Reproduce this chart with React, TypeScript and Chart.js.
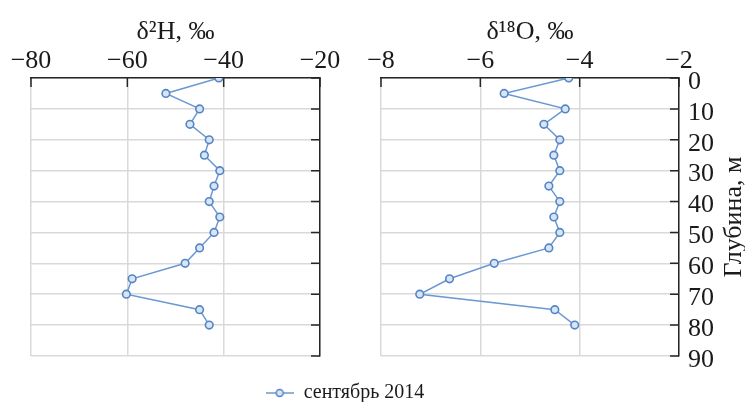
import React, { useEffect, useRef } from 'react';
import { Chart, registerables } from 'chart.js';

Chart.register(...registerables);

// ---- data ----
const depths = [0, 5, 10, 15, 20, 25, 30, 35, 40, 45, 50, 55, 60, 65, 70, 75, 80];
const deltaH = [-41, -52, -45, -47, -43, -44, -40.8, -42, -43, -40.8, -42, -45, -48, -59, -60.2, -45, -43];
const deltaO = [-4.22, -5.52, -4.29, -4.72, -4.4, -4.52, -4.4, -4.62, -4.4, -4.52, -4.4, -4.62, -5.72, -6.62, -7.22, -4.5, -4.1];
const hTicks = [-80, -60, -40, -20];
const oTicks = [-8, -6, -4, -2];
const depthTicks = [0, 10, 20, 30, 40, 50, 60, 70, 80, 90];
const seriesLabel = 'сентябрь 2014';
const titleH = 'δ²H, ‰';
const titleO = 'δ¹⁸O, ‰';
const depthTitle = 'Глубина, м';

// ---- styles ----
const FONT = "'Liberation Serif', 'Times New Roman', serif";
const TEXT = '#1a1a1a';
const AXIS = '#262626';
const GRID = '#d9d9d9';
const LINE = '#6a99d2';
const POINT_BORDER = '#5585c4';
const POINT_FILL = '#d8e5f5';

const fmt = (v: number) => (v < 0 ? '\u2212' + Math.abs(v) : String(v));

const innerTicks = {
  id: 'innerTicks',
  beforeDatasetsDraw(chart: any) {
    const { ctx, chartArea: a, scales } = chart;
    const x = scales.x;
    const y = scales.y;
    ctx.save();
    ctx.strokeStyle = AXIS;
    ctx.lineWidth = 1.5;
    ctx.beginPath();
    x.ticks.forEach((t: any) => {
      const px = x.getPixelForValue(t.value);
      ctx.moveTo(px, a.top);
      ctx.lineTo(px, a.top + 9);
    });
    y.ticks.forEach((t: any) => {
      const py = y.getPixelForValue(t.value);
      ctx.moveTo(a.right, py);
      ctx.lineTo(a.right - 9, py);
    });
    ctx.stroke();
    ctx.restore();
  },
};

const depthTitlePlugin = {
  id: 'depthTitle',
  afterDraw(chart: any) {
    const { ctx, chartArea: a } = chart;
    ctx.save();
    ctx.translate(734, (a.top + a.bottom) / 2);
    ctx.rotate(-Math.PI / 2);
    ctx.font = `26px ${FONT}`;
    ctx.fillStyle = TEXT;
    ctx.textAlign = 'center';
    ctx.textBaseline = 'middle';
    ctx.fillText(depthTitle, 0, 0);
    ctx.restore();
  },
};

function makeLegendSymbol(): HTMLCanvasElement {
  const c = document.createElement('canvas');
  c.width = 28;
  c.height = 10;
  const g = c.getContext('2d')!;
  g.strokeStyle = LINE;
  g.lineWidth = 1.5;
  g.beginPath();
  g.moveTo(0, 5);
  g.lineTo(28, 5);
  g.stroke();
  g.beginPath();
  g.arc(14, 5, 3.5, 0, Math.PI * 2);
  g.fillStyle = POINT_FILL;
  g.fill();
  g.strokeStyle = POINT_BORDER;
  g.stroke();
  return c;
}

function dataset(values: number[]) {
  return {
    label: seriesLabel,
    data: depths.map((d, i) => ({ x: values[i], y: d })),
    showLine: true,
    borderColor: LINE,
    borderWidth: 1.5,
    pointRadius: 3.8,
    pointBorderWidth: 1.6,
    pointBorderColor: POINT_BORDER,
    pointBackgroundColor: POINT_FILL,
    pointHoverRadius: 3.8,
  };
}

function panelOptions(opts: {
  ticks: number[];
  title: string;
  padding: any;
  yWidth: number;
  showDepthLabels: boolean;
  legend: any;
}) {
  const { ticks, title, padding, yWidth, showDepthLabels, legend } = opts;
  return {
    responsive: false,
    animation: false as const,
    events: [] as any[],
    layout: { padding },
    plugins: {
      tooltip: { enabled: false },
      title: {
        display: true,
        text: title,
        fullSize: false,
        color: TEXT,
        font: { family: FONT, size: 26, weight: 'normal' as const },
        padding: { top: 16.4, bottom: 0 },
      },
      legend,
    },
    scales: {
      x: {
        type: 'linear' as const,
        position: 'top' as const,
        min: ticks[0],
        max: ticks[ticks.length - 1],
        afterBuildTicks: (s: any) => {
          s.ticks = ticks.map((v) => ({ value: v }));
        },
        afterFit: (s: any) => {
          s.height = 30.4;
        },
        ticks: {
          padding: 1,
          maxRotation: 0,
          autoSkip: false,
          color: TEXT,
          font: { family: FONT, size: 26 },
          callback: (v: any) => fmt(Number(v)),
        },
        grid: { color: GRID, lineWidth: 1.5, drawTicks: false },
        border: { display: true, color: AXIS, width: 1.5 },
      },
      y: {
        type: 'linear' as const,
        position: 'right' as const,
        reverse: true,
        min: depthTicks[0],
        max: depthTicks[depthTicks.length - 1],
        afterBuildTicks: (s: any) => {
          s.ticks = depthTicks.map((v) => ({ value: v }));
        },
        afterFit: (s: any) => {
          s.width = yWidth;
        },
        ticks: {
          display: showDepthLabels,
          autoSkip: false,
          padding: 9,
          labelOffset: 4,
          color: TEXT,
          font: { family: FONT, size: 26 },
        },
        grid: { color: GRID, lineWidth: 1.5, drawTicks: false },
        border: { display: true, color: AXIS, width: 1.5 },
      },
    },
  };
}

export default function App() {
  const refA = useRef<HTMLCanvasElement>(null);
  const refB = useRef<HTMLCanvasElement>(null);

  useEffect(() => {
    const symbol = makeLegendSymbol();
    const chartA = new Chart(refA.current!, {
      type: 'scatter',
      data: { datasets: [dataset(deltaH) as any] },
      options: panelOptions({
        ticks: hTicks,
        title: titleH,
        padding: { left: 31, right: 0, top: 0, bottom: 0 },
        yWidth: 659 - 320,
        showDepthLabels: false,
        legend: {
          display: true,
          position: 'bottom',
          maxHeight: 46,
          labels: {
            usePointStyle: true,
            pointStyle: symbol,
            pointStyleWidth: 28,
            padding: 27,
            color: TEXT,
            font: { family: FONT, size: 20 },
          },
        },
      }) as any,
      plugins: [innerTicks],
    });
    const chartB = new Chart(refB.current!, {
      type: 'scatter',
      data: { datasets: [dataset(deltaO) as any] },
      options: panelOptions({
        ticks: oTicks,
        title: titleO,
        padding: { left: 381, right: 0, top: 0, bottom: 46 },
        yWidth: 745 - 679,
        showDepthLabels: true,
        legend: { display: false },
      }) as any,
      plugins: [innerTicks, depthTitlePlugin],
    });
    return () => {
      chartA.destroy();
      chartB.destroy();
    };
  }, []);

  return (
    <div style={{ position: 'absolute', left: 0, top: 0, width: 745, height: 402, background: '#fff', overflow: 'hidden' }}>
      <canvas ref={refA} width={659} height={402} style={{ position: 'absolute', left: 0, top: 0, width: 659, height: 402 }} />
      <canvas ref={refB} width={745} height={402} style={{ position: 'absolute', left: 0, top: 0, width: 745, height: 402 }} />
    </div>
  );
}
